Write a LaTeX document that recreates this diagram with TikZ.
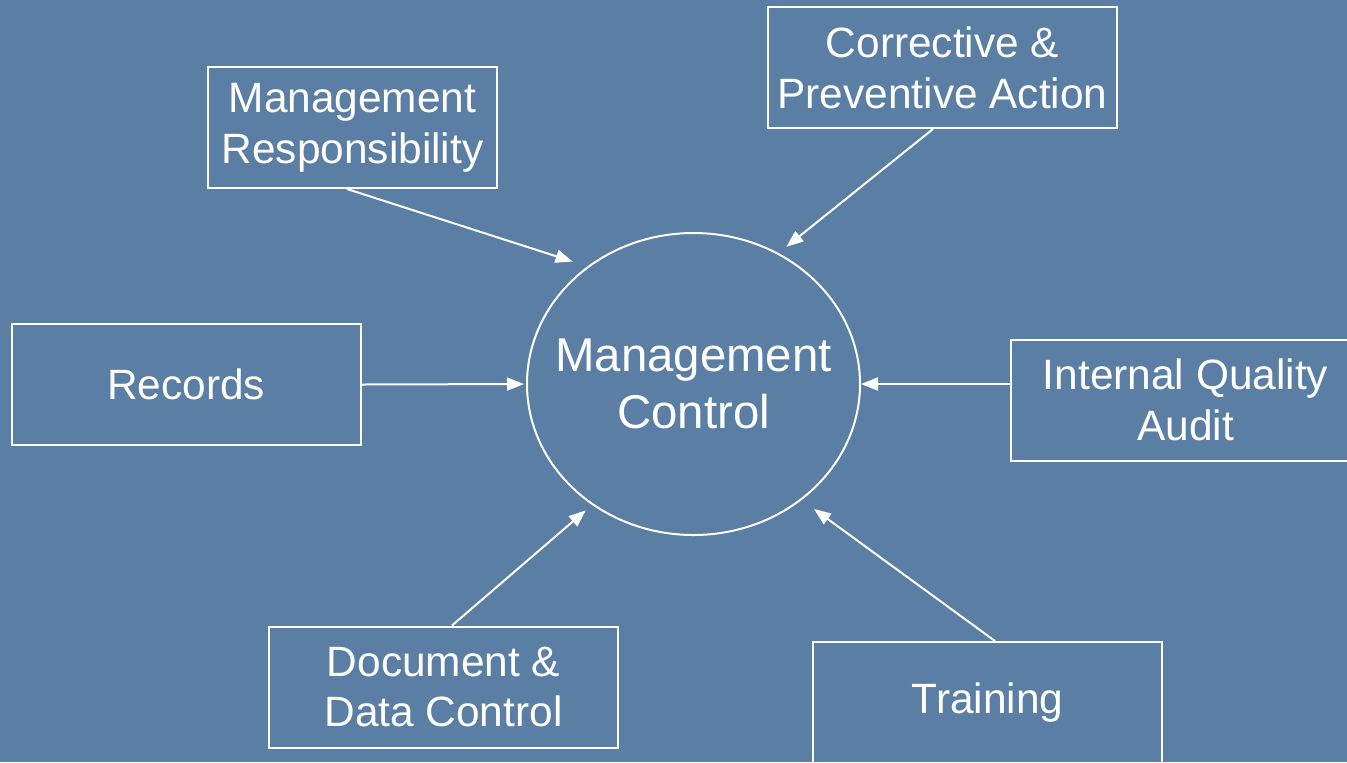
\documentclass[tikz,border=0pt]{standalone}
\usepackage{fontspec}
\setmainfont{Liberation Sans}
\usetikzlibrary{arrows.meta,shapes.geometric}
\definecolor{slideblue}{RGB}{91,126,164}
\begin{document}
\begin{tikzpicture}[x=0.5pt,y=-0.5pt,
item/.style={draw=white,line width=1pt,text=white,align=center,inner sep=0pt,minimum width=174.5pt,minimum height=60.5pt,font=\fontsize{21.2}{25.4}\selectfont},
feed/.style={draw=white,line width=1pt,-{Triangle[length=8.5pt,width=6.5pt]}}]
\fill[slideblue](0,0)rectangle(1347,762);
\clip(0,0)rectangle(1347,762);
\node[draw=white,line width=1pt,ellipse,inner xsep=-10.5pt,inner ysep=0pt,minimum width=166.5pt,minimum height=151pt,text=white,align=center,font=\fontsize{23.7}{28.5}\selectfont](mc)at(693.5,384){Management\\Control};
\node[item,minimum width=144.5pt](mr)at(352.5,127.5){Management\\Responsibility};
\node[item](cpa)at(942.5,67.5){Corrective \&\\Preventive Action};
\node[item](rec)at(186,384.5){Records};
\node[item](iqa)at(1185.5,400){Internal Quality\\Audit};
\node[item](ddc)at(443.5,687){Document \&\\Data Control};
\node[item](trn)at(987.5,702.5){Training};
\draw[feed,shorten >=7.8pt]([xshift=-2.75pt]mr.south)--(mc.132.6);
\draw[feed,shorten >=5pt]([xshift=-4.75pt]cpa.south)--(mc.57.4);
\draw[feed,shorten >=1pt](rec.east)--(mc.west);
\draw[feed](iqa.west|-mc.east)--(mc.east);
\draw[feed,shorten >=4.1pt]([xshift=4.25pt]ddc.north)--(mc.230.3);
\draw[feed,shorten >=7.6pt]([xshift=3.75pt]trn.north)--(mc.313.8);
\end{tikzpicture}
\end{document}
